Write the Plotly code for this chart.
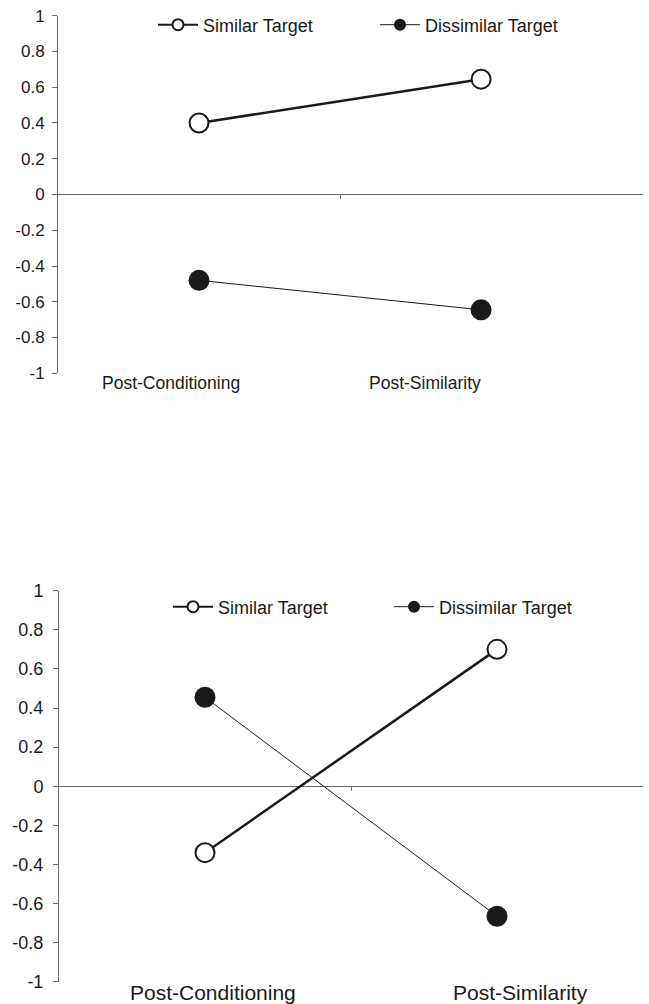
import plotly.graph_objects as go

# ---------------- data ----------------
categories = ["Post-Conditioning", "Post-Similarity"]
series_names = ["Similar Target", "Dissimilar Target"]
top_similar = [0.40, 0.645]
top_dissimilar = [-0.48, -0.645]
bottom_similar = [-0.34, 0.70]
bottom_dissimilar = [0.455, -0.665]
y_tick_vals = [1, 0.8, 0.6, 0.4, 0.2, 0, -0.2, -0.4, -0.6, -0.8, -1]
y_tick_text = ["1", "0.8", "0.6", "0.4", "0.2", "0", "-0.2", "-0.4", "-0.6", "-0.8", "-1"]

x_idx = list(range(len(categories)))
INK = "#1a1a1a"
FONT = "Liberation Sans, Arial, sans-serif"

fig = go.Figure()


def add_panel(xa, ya, sim, dis, leg_sim, leg_dis):
    fig.add_trace(go.Scatter(
        x=x_idx, y=sim, xaxis=xa, yaxis=ya, mode="lines+markers",
        line=dict(color=INK, width=2.5),
        marker=dict(size=19, color="white", line=dict(color=INK, width=2)),
        showlegend=False, hoverinfo="skip"))
    fig.add_trace(go.Scatter(
        x=x_idx, y=dis, xaxis=xa, yaxis=ya, mode="lines+markers",
        line=dict(color=INK, width=1),
        marker=dict(size=21, color=INK, line=dict(color=INK, width=0)),
        showlegend=False, hoverinfo="skip"))
    fig.add_trace(go.Scatter(
        x=[None], y=[None], xaxis=xa, yaxis=ya, mode="lines+markers",
        name=series_names[0], legend=leg_sim,
        line=dict(color=INK, width=2),
        marker=dict(size=11, color="white", line=dict(color=INK, width=2))))
    fig.add_trace(go.Scatter(
        x=[None], y=[None], xaxis=xa, yaxis=ya, mode="lines+markers",
        name=series_names[1], legend=leg_dis,
        line=dict(color=INK, width=1),
        marker=dict(size=12, color=INK)))


add_panel("x", "y", top_similar, top_dissimilar, "legend", "legend2")
add_panel("x2", "y2", bottom_similar, bottom_dissimilar, "legend3", "legend4")

W, H = 649, 1004


def px_x(p):
    return p / W


def px_y(p):
    return 1 - p / H


yaxis_common = dict(
    range=[-1, 1], tickvals=y_tick_vals, ticktext=y_tick_text,
    showline=True, linecolor="#6a6a6a", linewidth=1,
    ticks="outside", ticklen=5, tickcolor="#6a6a6a",
    showgrid=False, zeroline=False, fixedrange=True, automargin=False,
)
xaxis_common = dict(
    showline=True, linecolor="#6a6a6a", linewidth=1,
    ticks="outside", ticklen=4, tickcolor="#6a6a6a",
    showticklabels=False, showgrid=False, zeroline=False,
    anchor="free", layer="below traces", fixedrange=True, automargin=False,
)

legend_common = dict(orientation="h", xanchor="left", yanchor="middle",
                     bgcolor="rgba(0,0,0,0)", borderwidth=0, itemwidth=40)

fig.update_layout(
    width=W, height=H, autosize=False,
    margin=dict(l=0, r=0, t=0, b=0, pad=0, autoexpand=False),
    paper_bgcolor="white", plot_bgcolor="white",
    font=dict(family=FONT, color=INK),
    xaxis=dict(xaxis_common, domain=[px_x(58), px_x(643)], range=[-0.5, 1.574],
               tickvals=[0.5], position=px_y(194.3)),
    yaxis=dict(yaxis_common, domain=[px_y(373.3), px_y(15.7)], anchor="x",
               ticklabelstandoff=4,
               tickfont=dict(size=17, family=FONT, color=INK)),
    xaxis2=dict(xaxis_common, domain=[px_x(59), px_x(643)], range=[-0.5, 1.5],
                tickvals=[0.5], position=px_y(786)),
    yaxis2=dict(yaxis_common, domain=[px_y(981.7), px_y(590.7)], anchor="x2",
                ticklabelstandoff=6,
                tickfont=dict(size=18, family=FONT, color=INK)),
    legend=dict(legend_common, x=px_x(153), y=px_y(25), font=dict(size=18)),
    legend2=dict(legend_common, x=px_x(375), y=px_y(25), font=dict(size=18)),
    legend3=dict(legend_common, x=px_x(168), y=px_y(607), font=dict(size=18)),
    legend4=dict(legend_common, x=px_x(389), y=px_y(607), font=dict(size=18)),
)

top_label_x = [-0.1, 0.8]
bottom_label_x = [0.027, 1.079]
for cx, lab in zip(top_label_x, categories):
    fig.add_annotation(x=cx, xref="x", y=px_y(383), yref="paper", text=lab,
                       showarrow=False, font=dict(size=17.5, family=FONT, color=INK),
                       xanchor="center", yanchor="middle")
for cx, lab in zip(bottom_label_x, categories):
    fig.add_annotation(x=cx, xref="x2", y=px_y(992), yref="paper", text=lab,
                       showarrow=False, font=dict(size=21, family=FONT, color=INK),
                       xanchor="center", yanchor="middle")

fig.write_html(
    "out.html",
    config={"responsive": False, "displayModeBar": False},
    post_script="document.body.style.margin='0';document.body.style.overflow='hidden';",
)
